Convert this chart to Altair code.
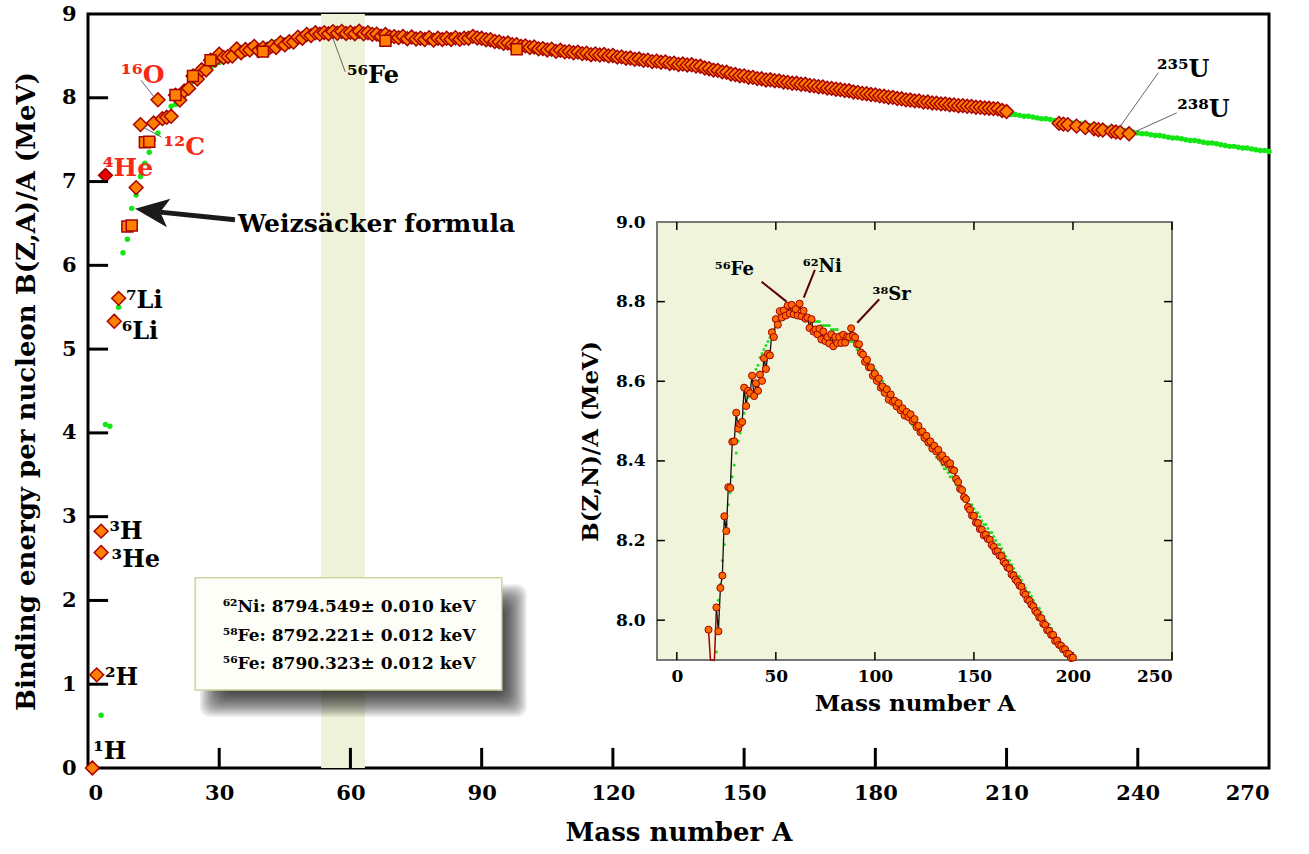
import altair as alt
import pandas as pd

FONT = "DejaVu Serif"

# ---------------- data ----------------
# Weizsaecker formula (green dots), A = 3 .. 270
green_A = list(range(3, 271))
green_B = [
    0.63, 4.10, 4.08, 5.38, 5.50, 6.15, 6.31, 6.68, 6.84, 7.06,      # 3-12
    7.22, 7.35, 7.50, 7.58, 7.72, 7.78, 7.90, 7.92, 8.05, 8.09,      # 13-22
    8.15, 8.19, 8.24, 8.29, 8.32, 8.36, 8.39, 8.42, 8.45, 8.47,      # 23-32
    8.50, 8.52, 8.54, 8.56, 8.58, 8.60, 8.61, 8.63, 8.64, 8.66,      # 33-42
    8.67, 8.68, 8.69, 8.70, 8.71, 8.72, 8.73, 8.74, 8.75, 8.75,      # 43-52
    8.76, 8.76, 8.77, 8.77, 8.77, 8.77, 8.77, 8.77, 8.77, 8.77,      # 53-62
    8.77, 8.76, 8.76, 8.76, 8.76, 8.76, 8.75,                        # 63-69
    8.75, 8.75, 8.75, 8.74, 8.74, 8.74, 8.74, 8.74, 8.73, 8.73,      # 70-79
    8.73, 8.73, 8.72, 8.72, 8.72, 8.71, 8.71, 8.70, 8.70, 8.70,      # 80-89
    8.69, 8.68, 8.68, 8.67, 8.67, 8.66, 8.65, 8.65, 8.64, 8.64,      # 90-99
    8.63, 8.62, 8.61, 8.61, 8.60, 8.59, 8.58, 8.58, 8.57, 8.56,      # 100-109
    8.55, 8.54, 8.54, 8.53, 8.52, 8.52, 8.51, 8.51, 8.50, 8.49,      # 110-119
    8.49, 8.48, 8.47, 8.47, 8.46, 8.45, 8.45, 8.44, 8.43, 8.43,      # 120-129
    8.42, 8.41, 8.41, 8.40, 8.39, 8.38, 8.38, 8.37, 8.36, 8.36,      # 130-139
    8.35, 8.34, 8.34, 8.33, 8.32, 8.31, 8.31, 8.30, 8.29, 8.29,      # 140-149
    8.28, 8.27, 8.27, 8.26, 8.25, 8.24, 8.24, 8.23, 8.22, 8.22,      # 150-159
    8.21, 8.20, 8.19, 8.19, 8.18, 8.17, 8.16, 8.15, 8.15, 8.14,      # 160-169
    8.13, 8.12, 8.11, 8.11, 8.10, 8.09, 8.08, 8.07, 8.07, 8.06,      # 170-179
    8.05, 8.04, 8.03, 8.03, 8.02, 8.01, 8.00, 7.99, 7.99, 7.98,      # 180-189
    7.97, 7.96, 7.95, 7.95, 7.94, 7.93, 7.92, 7.91, 7.91, 7.90,      # 190-199
    7.89, 7.88, 7.87, 7.87, 7.86, 7.85, 7.84, 7.83, 7.83, 7.82,      # 200-209
    7.81, 7.80, 7.80, 7.79, 7.78, 7.78, 7.77, 7.76, 7.75, 7.75,      # 210-219
    7.74, 7.73, 7.72, 7.72, 7.71, 7.70, 7.69, 7.69, 7.68, 7.67,      # 220-229
    7.66, 7.65, 7.65, 7.64, 7.63, 7.62, 7.62, 7.61, 7.60, 7.59,      # 230-239
    7.58, 7.57, 7.57, 7.56, 7.55, 7.55, 7.54, 7.53, 7.52, 7.52,      # 240-249
    7.51, 7.50, 7.49, 7.49, 7.48, 7.47, 7.46, 7.46, 7.45, 7.44,      # 250-259
    7.43, 7.42, 7.42, 7.41, 7.40, 7.40, 7.39, 7.38, 7.37, 7.37,      # 260-269
    7.36,                                                            # 270
]

# measured B/A, most bound isobar, A = 16 .. 200 (inset and main chart)
inset_A = list(range(16, 201))
inset_B = [
    7.976, 7.751, 7.767, 7.779, 8.032, 7.972, 8.081, 8.112, 8.261, 8.224,
    8.334, 8.332, 8.448, 8.449, 8.521, 8.481, 8.493, 8.498, 8.584, 8.538,
    8.576, 8.570, 8.614, 8.563, 8.595, 8.576, 8.617, 8.601, 8.658, 8.631,
    8.669, 8.665, 8.723, 8.711, 8.756, 8.742, 8.776, 8.760, 8.778, 8.765,
    8.790, 8.770, 8.792, 8.768, 8.781, 8.765, 8.795, 8.763, 8.777, 8.757,
    8.760, 8.734, 8.756, 8.725, 8.730, 8.718, 8.732, 8.705, 8.725, 8.701,
    8.711, 8.695, 8.718, 8.688, 8.711, 8.696, 8.711, 8.696, 8.717, 8.697,
    8.712, 8.711, 8.733, 8.714, 8.710, 8.693, 8.693, 8.672, 8.667, 8.649,
    8.654, 8.635, 8.635, 8.614, 8.619, 8.601, 8.607, 8.584, 8.587, 8.571,
    8.580, 8.554, 8.567, 8.548, 8.551, 8.537, 8.545, 8.527, 8.532, 8.514,
    8.523, 8.510, 8.517, 8.500, 8.505, 8.485, 8.488, 8.472, 8.474, 8.458,
    8.463, 8.446, 8.449, 8.431, 8.438, 8.424, 8.428, 8.410, 8.414, 8.398,
    8.403, 8.392, 8.394, 8.378, 8.376, 8.355, 8.347, 8.330, 8.327, 8.309,
    8.304, 8.284, 8.277, 8.263, 8.262, 8.245, 8.244, 8.229, 8.227, 8.213,
    8.215, 8.204, 8.202, 8.189, 8.184, 8.173, 8.173, 8.162, 8.161, 8.147,
    8.142, 8.132, 8.130, 8.115, 8.112, 8.102, 8.097, 8.087, 8.084, 8.069,
    8.064, 8.052, 8.049, 8.039, 8.035, 8.023, 8.018, 8.007, 8.005, 7.991,
    7.988, 7.975, 7.973, 7.963, 7.963, 7.948, 7.949, 7.938, 7.936, 7.927,
    7.927, 7.916, 7.915, 7.905, 7.906,
]

light_A = [1, 2, 3, 3, 6, 7, 11, 12, 15]
light_B = [0.0, 1.112, 2.827, 2.573, 5.332, 5.606, 6.928, 7.680, 7.699]
he4_A = [4]
he4_B = [7.074]
sq_A = [9, 10, 13, 14, 20, 24, 28, 40, 68, 98]
sq_B = [6.463, 6.475, 7.470, 7.476, 8.032, 8.261, 8.448, 8.551, 8.68, 8.58]
heavy_A = [201, 202, 203, 204, 205, 206, 207, 208, 209, 210,
           222, 223, 224, 226, 228, 230, 231, 232, 234, 235, 236, 238]
heavy_B = [7.898, 7.897, 7.887, 7.886, 7.878, 7.875, 7.870, 7.868, 7.848, 7.836,
           7.695, 7.685, 7.680, 7.662, 7.645, 7.631, 7.619, 7.615, 7.601, 7.591, 7.586, 7.570]

main_x_ticks = [0, 30, 60, 90, 120, 150, 180, 210, 240, 270]
main_y_ticks = [0, 1, 2, 3, 4, 5, 6, 7, 8, 9]
inset_x_ticks = [0, 50, 100, 150, 200, 250]
inset_y_ticks = [8.0, 8.2, 8.4, 8.6, 8.8, 9.0]

box_lines = ["⁶²Ni: 8794.549± 0.010 keV",
             "⁵⁸Fe: 8792.221± 0.012 keV",
             "⁵⁶Fe: 8790.323± 0.012 keV"]

# ---------------- tables ----------------
green_df = pd.DataFrame({"A": green_A, "B": green_B})
exp_df = pd.concat([
    pd.DataFrame({"A": light_A, "B": light_B}),
    pd.DataFrame({"A": inset_A, "B": inset_B}),
    pd.DataFrame({"A": heavy_A, "B": heavy_B}),
])
sq_df = pd.DataFrame({"A": sq_A, "B": sq_B})
he4_df = pd.DataFrame({"A": he4_A, "B": he4_B})
inset_df = pd.DataFrame({"A": inset_A, "B": inset_B})

band_df = pd.DataFrame({"A": [53.3], "A2": [63.3], "B": [0.0], "B2": [9.0]})

xs = alt.Scale(domain=[0, 270], nice=False, zero=False)
ys = alt.Scale(domain=[0, 9], nice=False, zero=False)
x_axis = alt.Axis(values=main_x_ticks, title="Mass number A", grid=False, domain=False,
                  ticks=False, labelPadding=14, titlePadding=16, labelFont=FONT,
                  labelFontSize=21, labelFontWeight="bold", labelColor="black",
                  titleFont=FONT, titleFontSize=26, titleFontWeight="bold", titleColor="black")
y_axis = alt.Axis(values=main_y_ticks, title="Binding energy per nucleon B(Z,A)/A (MeV)",
                  grid=False, domain=False, ticks=False, labelPadding=12, titlePadding=22,
                  labelFont=FONT, labelFontSize=21, labelFontWeight="bold", labelColor="black",
                  titleFont=FONT, titleFontSize=26, titleFontWeight="bold", titleColor="black")

X = lambda f="A": alt.X(f"{f}:Q", scale=xs, axis=x_axis)
Y = lambda f="B": alt.Y(f"{f}:Q", scale=ys, axis=y_axis)

band = alt.Chart(band_df).mark_rect(color="#eef2d8").encode(
    x=X(), x2="A2:Q", y=Y(), y2="B2:Q")

tick_x_df = pd.DataFrame({"A": main_x_ticks[1:-1]})
tick_x_df["B"] = 0.0
tick_x_df["B2"] = 0.24
tick_y_df = pd.DataFrame({"B": main_y_ticks[1:-1]})
tick_y_df["A"] = 0.0
tick_y_df["A2"] = 4.6
ticks_x = alt.Chart(tick_x_df).mark_rule(color="black", strokeWidth=3).encode(
    x=X(), y=Y(), y2="B2:Q")
ticks_y = alt.Chart(tick_y_df).mark_rule(color="black", strokeWidth=3).encode(
    x=X(), x2="A2:Q", y=Y())

green_pts = alt.Chart(green_df).mark_circle(color="#14e614", size=30, opacity=1).encode(
    x=X(), y=Y())

diamonds = alt.Chart(exp_df).mark_point(shape="diamond", filled=True, fill="#ff8000",
                                        stroke="#a80000", strokeWidth=1.5, size=190,
                                        opacity=1).encode(x=X(), y=Y())
squares = alt.Chart(sq_df).mark_point(shape="square", filled=True, fill="#ff8000",
                                      stroke="#a80000", strokeWidth=1.5, size=120,
                                      opacity=1).encode(x=X(), y=Y())
he4 = alt.Chart(he4_df).mark_point(shape="diamond", filled=True, fill="#e80000",
                                   stroke="#900000", strokeWidth=1.5, size=190,
                                   opacity=1).encode(x=X(), y=Y())

# leader lines (main)
lead_df = pd.DataFrame({
    "A": [12.1, 12.6, 56.0, 235.6, 239.6],
    "B": [8.21, 7.65, 8.71, 7.63, 7.60],
    "A2": [15.1, 16.8, 58.8, 244.7, 248.9],
    "B2": [8.01, 7.53, 8.31, 8.30, 7.82],
})
leads = alt.Chart(lead_df).mark_rule(color="#666666", strokeWidth=1).encode(
    x=X(), y=Y(), x2="A2:Q", y2="B2:Q")

black_lbl = pd.DataFrame({
    "t": ["⁵⁶Fe", "²³⁵U", "²³⁸U", "⁷Li", "⁶Li", "³H", "³He", "²H", "¹H"],
    "A": [59.2, 244.4, 249.0, 8.7, 7.7, 4.9, 5.4, 3.9, 1.2],
    "B": [8.26, 8.33, 7.85, 5.58, 5.21, 2.82, 2.48, 1.07, 0.19],
})
black_txt = alt.Chart(black_lbl).mark_text(font=FONT, fontSize=24, fontWeight="bold",
                                           align="left", baseline="middle",
                                           color="black").encode(x=X(), y=Y(), text="t:N")
red_lbl = pd.DataFrame({
    "t": ["¹⁶O", "¹²C", "⁴He"],
    "A": [7.5, 17.2, 3.35],
    "B": [8.27, 7.41, 7.16],
})
red_txt = alt.Chart(red_lbl).mark_text(font=FONT, fontSize=25, fontWeight="bold",
                                       align="left", baseline="middle",
                                       color="#f62a17").encode(x=X(), y=Y(), text="t:N")

# Weizsaecker arrow
wz_df = pd.DataFrame({"t": ["Weizsäcker formula"], "A": [34.3], "B": [6.49]})
wz_txt = alt.Chart(wz_df).mark_text(font=FONT, fontSize=25, fontWeight="bold", align="left",
                                    baseline="middle", color="black").encode(
    x=X(), y=Y(), text="t:N")
shaft_df = pd.DataFrame({"A": [33.6], "B": [6.545], "A2": [16.5], "B2": [6.635]})
shaft = alt.Chart(shaft_df).mark_rule(color="#1a1a1a", strokeWidth=5).encode(
    x=X(), y=Y(), x2="A2:Q", y2="B2:Q")
head_df = pd.DataFrame({"A": [14.6], "B": [6.65]})
head = alt.Chart(head_df).mark_point(shape="M -1 0 L 1 -0.85 L 0.5 0 L 1 0.85 Z",
                                     filled=True, color="#1a1a1a", size=1150, angle=7,
                                     opacity=1).encode(x=X(), y=Y())

# text box with soft drop shadow
bx0, bx1, by0, by1 = 24.5, 94.6, 0.93, 2.27
sh_rows = []
for e in range(-16, 12, 2):
    sh_rows.append({"A": bx0 + 3.4 - e / 4.374, "A2": bx1 + 3.4 + e / 4.374,
                    "B": by0 - 0.20 - e / 83.8, "B2": by1 - 0.20 + e / 83.8})
shadow_df = pd.DataFrame(sh_rows)
shadow = alt.Chart(shadow_df).mark_rect(color="black", opacity=0.085,
                                        cornerRadius=10).encode(
    x=X(), x2="A2:Q", y=Y(), y2="B2:Q")
box_df = pd.DataFrame({"A": [bx0], "A2": [bx1], "B": [by0], "B2": [by1]})
box = alt.Chart(box_df).mark_rect(fill="#fefef8", stroke="#c9d69e", strokeWidth=1.5).encode(
    x=X(), x2="A2:Q", y=Y(), y2="B2:Q")
box_txt_df = pd.DataFrame({"t": box_lines, "A": [59.7] * 3, "B": [1.92, 1.575, 1.24]})
box_txt = alt.Chart(box_txt_df).mark_text(font=FONT, fontSize=17, fontWeight="bold",
                                          align="center", baseline="middle",
                                          color="black").encode(x=X(), y=Y(), text="t:N")

main = alt.layer(band, green_pts, diamonds, squares, he4, leads, black_txt, red_txt,
                 shaft, head, wz_txt, shadow, box, box_txt, ticks_x, ticks_y)

# ---------------- inset ----------------
xi = alt.Scale(domain=[-10, 250], range=[569, 1084], nice=False, zero=False)
yi = alt.Scale(domain=[7.9, 9.0], range=[646, 208], nice=False, zero=False, clamp=True)
xi_axis = alt.Axis(orient="bottom", offset=-108, values=inset_x_ticks, title="Mass number A",
                   grid=False, domain=False, ticks=False, labelPadding=8, titlePadding=8,
                   labelFont=FONT, labelFontSize=17, labelFontWeight="bold",
                   labelColor="black", titleFont=FONT, titleFontSize=23,
                   titleFontWeight="bold", titleColor="black")
yi_axis = alt.Axis(orient="left", offset=-569, values=inset_y_ticks, format=".1f",
                   title="B(Z,N)/A (MeV)", grid=False, domain=False, ticks=False,
                   labelPadding=12, titlePadding=13, labelFont=FONT, labelFontSize=17,
                   labelFontWeight="bold", labelColor="black", titleFont=FONT,
                   titleFontSize=23, titleFontWeight="bold", titleColor="black")
XI = lambda f="A": alt.X(f"{f}:Q", scale=xi, axis=xi_axis)
YI = lambda f="B": alt.Y(f"{f}:Q", scale=yi, axis=yi_axis)

ibg_df = pd.DataFrame({"A": [-10.0], "A2": [250.0], "B": [7.9], "B2": [9.0]})
ibg = alt.Chart(ibg_df).mark_rect(fill="#f0f4da", stroke="#777777", strokeWidth=2).encode(
    x=XI(), x2="A2:Q", y=YI(), y2="B2:Q")

itx = pd.DataFrame({"A": inset_x_ticks * 2,
                    "B": [7.9] * 6 + [9.0] * 6,
                    "B2": [7.92] * 6 + [8.98] * 6})
ity = pd.DataFrame({"B": inset_y_ticks[:-1] * 2,
                    "A": [-10.0] * 5 + [250.0] * 5,
                    "A2": [-6.0] * 5 + [246.0] * 5})
iticks_x = alt.Chart(itx).mark_rule(color="black", strokeWidth=1.5).encode(
    x=XI(), y=YI(), y2="B2:Q")
iticks_y = alt.Chart(ity).mark_rule(color="black", strokeWidth=1.5).encode(
    x=XI(), x2="A2:Q", y=YI())

igreen = alt.Chart(green_df).transform_filter(
    (alt.datum.B >= 7.9) & (alt.datum.A <= 250)).mark_circle(
    color="#22dd22", size=9, opacity=1).encode(x=XI(), y=YI())
iline_low = alt.Chart(inset_df).transform_filter(alt.datum.A <= 20).mark_line(
    color="#a00000", strokeWidth=1.5).encode(x=XI(), y=YI(), order="A:Q")
iline_high = alt.Chart(inset_df).transform_filter(alt.datum.A >= 20).mark_line(
    color="#111111", strokeWidth=1.3).encode(x=XI(), y=YI(), order="A:Q")
ipts = alt.Chart(inset_df).transform_filter(alt.datum.B >= 7.9).mark_point(
    shape="circle", filled=True, fill="#ff6a00", stroke="#a00000", strokeWidth=1,
    size=50, opacity=1).encode(x=XI(), y=YI())

ilead_df = pd.DataFrame({
    "A": [42.8, 69.7, 102.2], "B": [8.85, 8.88, 8.806],
    "A2": [55.4, 64.1, 91.1], "B2": [8.80, 8.81, 8.747],
})
ileads = alt.Chart(ilead_df).mark_rule(color="#5a0000", strokeWidth=2).encode(
    x=XI(), y=YI(), x2="A2:Q", y2="B2:Q")
ilbl_df = pd.DataFrame({
    "t": ["⁵⁶Fe", "⁶²Ni", "³⁸Sr"],
    "A": [19.2, 63.6, 98.8], "B": [8.88, 8.888, 8.817],
})
ilbl = alt.Chart(ilbl_df).mark_text(font=FONT, fontSize=18, fontWeight="bold", align="left",
                                    baseline="middle", color="black").encode(
    x=XI(), y=YI(), text="t:N")

inset = alt.layer(ibg, iticks_x, iticks_y, igreen, iline_low, iline_high, ipts, ileads, ilbl)

chart = alt.layer(main, inset).resolve_scale(x="independent", y="independent").properties(
    width=1181, height=754,
    autosize=alt.AutoSizeParams(type="none"),
    padding={"left": 88, "top": 14, "right": 40, "bottom": 86},
    background="white",
).configure_view(stroke="black", strokeWidth=3)

chart.save("out.html", embed_options={"renderer": "svg", "actions": False})
